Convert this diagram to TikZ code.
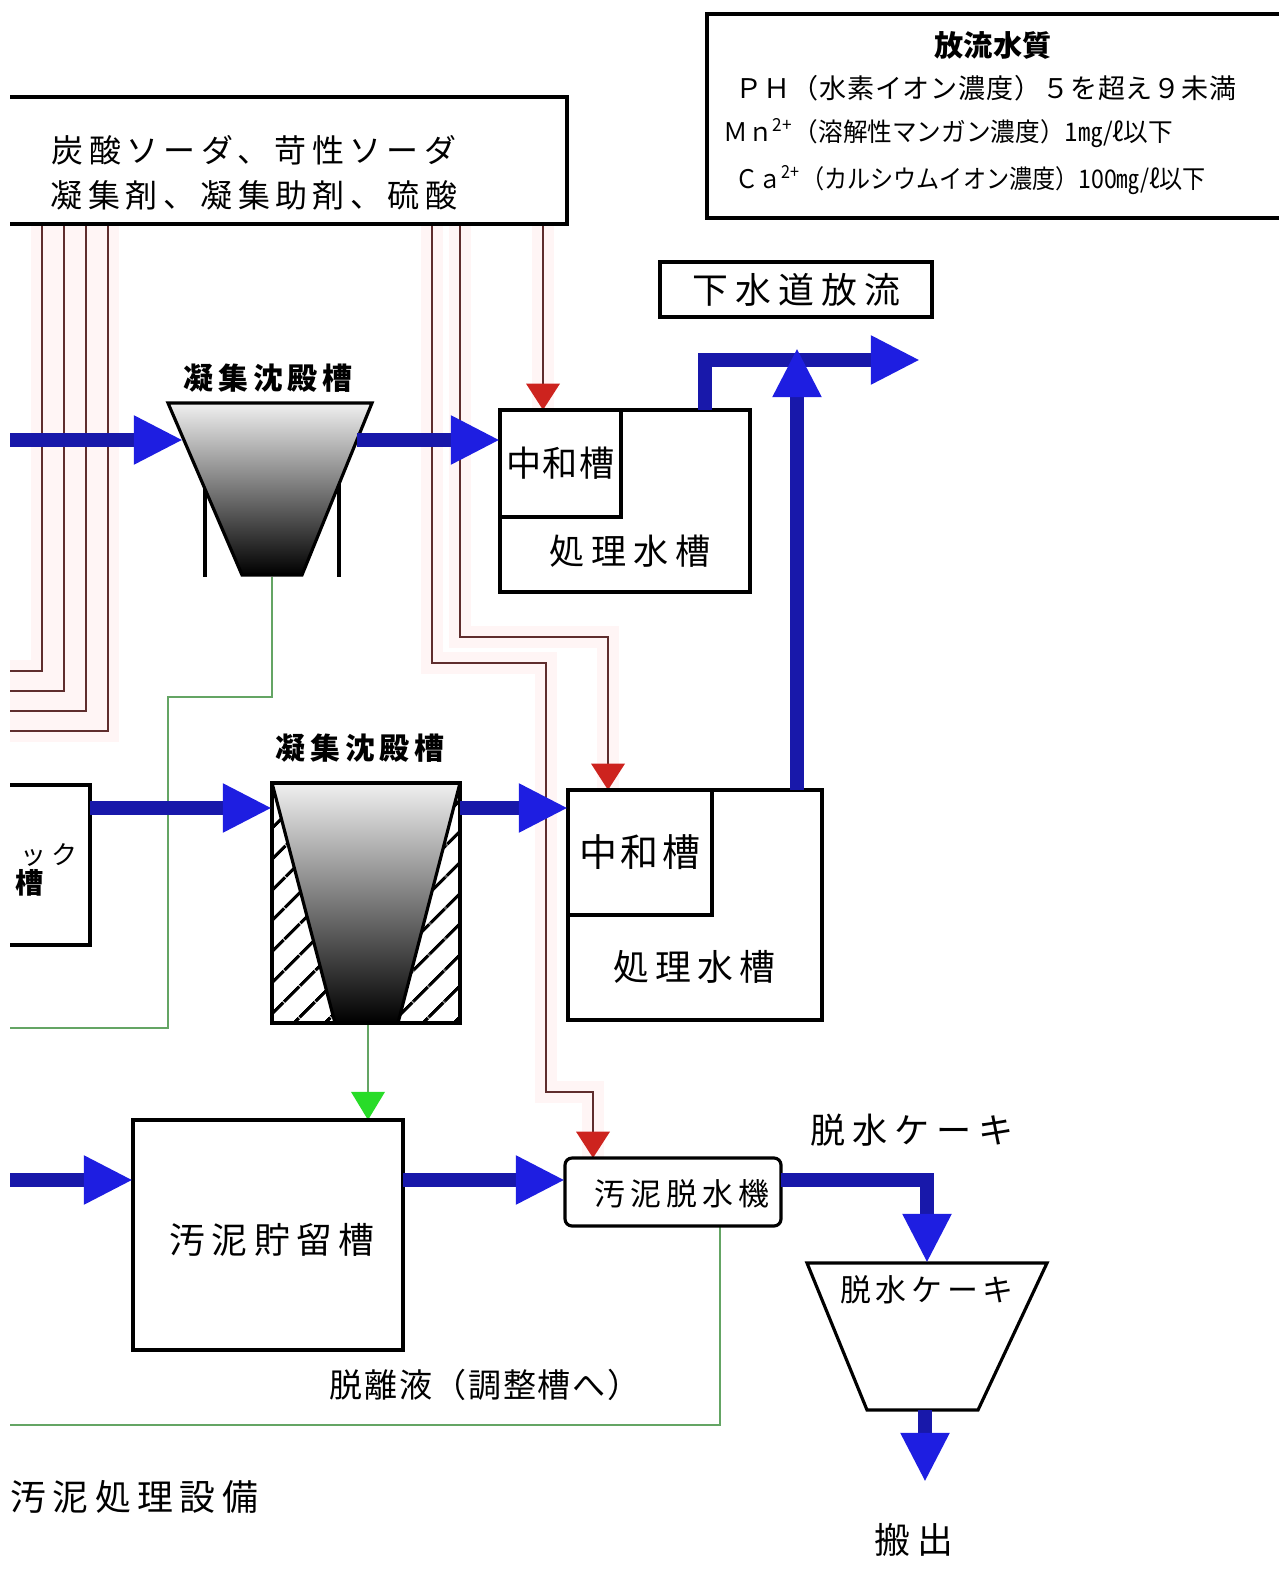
\documentclass[tikz,border=0pt]{standalone}
\usepackage{fontspec}
\setmainfont{Noto Sans CJK JP}
\usetikzlibrary{arrows.meta,patterns.meta}
\definecolor{pipeblue}{RGB}{24,24,170}
\definecolor{headblue}{RGB}{30,30,225}
\definecolor{dosered}{RGB}{95,45,45}
\definecolor{tipred}{RGB}{205,35,30}
\definecolor{sludgegreen}{RGB}{100,165,100}
\definecolor{tipgreen}{RGB}{40,220,40}
\newcommand\jf[2]{\fontsize{#1}{#1}\selectfont\addfontfeatures{LetterSpace=#2}}
\tikzset{
  tank/.style={draw, line width=0.9pt, inner sep=0pt, outer sep=0pt},
  water/.style={draw=pipeblue, line width=4pt, -{Triangle[width=13pt,length=14pt,color=headblue]}},
  dose/.style={draw=dosered, line width=0.7pt, preaction={draw=red!4, line width=6pt, -}},
  dosearr/.style={dose, -{Triangle[width=9.5pt,length=7.5pt,color=tipred]}},
  sludge/.style={draw=sludgegreen, line width=0.7pt},
  sludgearr/.style={sludge, -{Triangle[width=9.5pt,length=8pt,color=tipgreen]}},
  lbl/.style={inner sep=0pt},
}
\begin{document}
\begin{tikzpicture}[x=0.1mm, y=-0.1mm]
  \useasboundingbox (0,0) rectangle (1279,1573);
  % dosing lines from the chemical box
  \foreach \x/\y in {42/671, 64/691, 86/711, 108/731}
    \draw[dose] (\x,224) |- (10,\y);
  \draw[dosearr] (543,224) -- (543,410);
  \draw[dosearr] (460,224) |- (608,637) -- (608,790);
  \draw[dosearr] (432,224) |- (546,663) |- (593,1092) -- (593,1158);
  % sludge lines
  \draw[sludge] (272,577) |- (168,697) |- (10,1028);
  \draw[sludgearr] (368,1023) -- (368,1120);
  \draw[sludge] (720,1226) |- (10,1425);
  % chemical box
  \draw[tank] (10,97) -- (567,97) -- (567,224) -- (10,224);
  \node[lbl, font=\jf{9.1}{17}] (yaku1) at (254,150) {炭酸ソーダ、苛性ソーダ};
  \node[lbl, font=\jf{9.1}{17}] (yaku2) at (254,195) {凝集剤、凝集助剤、硫酸};
  % water quality box
  \draw[tank] (1279,14) -- (707,14) -- (707,218) -- (1279,218);
  \node[lbl, font=\bfseries\jf{8.3}{0}] (suishitsu) at (993,45) {放流水質};
  \node[lbl, anchor=west, font=\jf{7.7}{3}] (ph) at (735,88) {ＰＨ（水素イオン濃度）５を超え９未満};
  \node[lbl, anchor=west, font=\jf{7.3}{0}] (mn) at (723,133) {\scalebox{0.96}[1]{Ｍｎ\textsuperscript{2+}（溶解性マンガン濃度）1㎎/ℓ以下}};
  \node[lbl, anchor=west, font=\jf{7.3}{0}] (ca) at (735,180) {\scalebox{0.9}[1]{Ｃａ\textsuperscript{2+}（カルシウムイオン濃度）100㎎/ℓ以下}};
  % tanks
  \node[tank, minimum width=25mm, minimum height=18.2mm, anchor=north west] (shori1) at (500,410) {};
  \node[tank, minimum width=12.1mm, minimum height=10.7mm, anchor=north west] (chuwa1) at (500,410) {};
  \node[tank, minimum width=25.4mm, minimum height=23mm, anchor=north west] (shori2) at (568,790) {};
  \node[tank, minimum width=14.4mm, minimum height=12.5mm, anchor=north west] (chuwa2) at (568,790) {};
  \node[tank, minimum width=27.2mm, minimum height=5.5mm, anchor=north west] (gesui) at (660,262) {};
  \node[tank, minimum width=27mm, minimum height=23mm, anchor=north west] (choryu) at (133,1120) {};
  \node[tank, minimum width=21.6mm, minimum height=6.8mm, anchor=north west, rounded corners=2pt] (dassui) at (565,1158) {};
  \draw[tank] (10,785) -- (90,785) -- (90,945) -- (10,945);
  % first settling tank
  \shade[top color=gray!12, middle color=gray!60, bottom color=black] (168,403) -- (372,403) -- (302,575) -- (242,575) -- cycle;
  \draw[tank] (168,403) -- (372,403) -- (302,575) -- (242,575) -- cycle;
  \draw[tank] (205,489) -- (205,577);
  \draw[tank] (339,484) -- (339,577);
  % second settling tank
  \fill[pattern={Lines[angle=45,distance=6.5pt,line width=1pt]}] (272,783) -- (335,1023) -- (272,1023) -- cycle;
  \fill[pattern={Lines[angle=45,distance=6.5pt,line width=1pt]}] (460,783) -- (460,1023) -- (398,1023) -- cycle;
  \shade[top color=gray!12, middle color=gray!60, bottom color=black] (272,783) -- (460,783) -- (398,1023) -- (335,1023) -- cycle;
  \node[tank, minimum width=18.8mm, minimum height=24mm, anchor=north west] (gyo2) at (272,783) {};
  \draw[tank] (gyo2.north west) -- (335,1023) (gyo2.north east) -- (398,1023);
  % cake hopper
  \draw[tank] (807,1263) -- (1047,1263) -- (978,1410) -- (867,1410) -- cycle;
  % water flow
  \draw[water] (10,440) -- (183,440);
  \draw[water] (357,440) -- (shori1.west |- 0,440);
  \draw[water] (705,410) |- (920,360);
  \draw[water] (797,790) -- (797,348);
  \draw[water] (90,808) -- (gyo2.west |- 0,808);
  \draw[water] (gyo2.east |- 0,808) -- (shori2.west |- 0,808);
  \draw[water] (10,1180) -- (choryu.west |- 0,1180);
  \draw[water] (choryu.east |- 0,1180) -- (dassui.west |- 0,1180);
  \draw[water] (dassui.east |- 0,1180) -| (927,1263);
  \draw[water] (925,1410) -- (925,1482);
  % labels
  \node[lbl, font=\bfseries\jf{8.5}{17}] (gyoshu1) at (268,378) {凝集沈殿槽};
  \node[lbl, font=\bfseries\jf{8.5}{17}] (gyoshu2) at (360,748) {凝集沈殿槽};
  \node[lbl, font=\jf{10}{3}] at (chuwa1.center) {中和槽};
  \node[lbl, font=\jf{10}{20}] at (630,551) {処理水槽};
  \node[lbl, font=\jf{10.8}{10}] at (chuwa2.center) {中和槽};
  \node[lbl, font=\jf{10.2}{17}] at (694,967) {処理水槽};
  \node[lbl, font=\jf{10.2}{20}] at (gesui.center) {下水道放流};
  \node[lbl, font=\jf{8.8}{17}] at (682,1194) {汚泥脱水機};
  \node[lbl, font=\jf{10.2}{18}] at (272,1240) {汚泥貯留槽};
  \node[lbl, font=\jf{10}{20}] (keki1) at (912,1130) {脱水ケーキ};
  \node[lbl, font=\jf{8.8}{15}] (keki2) at (927,1290) {脱水ケーキ};
  \node[lbl, font=\jf{9.4}{5}] (ridatsu) at (485,1385) {脱離液（調整槽へ）};
  \node[lbl, anchor=west, font=\jf{10.2}{18}] (setsubi) at (10,1497) {汚泥処理設備};
  \node[lbl, font=\jf{10.2}{18}] (hanshutsu) at (914,1540) {搬出};
  \node[lbl, anchor=east, font=\jf{7.4}{20}] (ikku) at (78,855) {ック};
  \node[lbl, font=\bfseries\jf{8}{0}] (iso) at (30,883) {槽};
\end{tikzpicture}
\end{document}
